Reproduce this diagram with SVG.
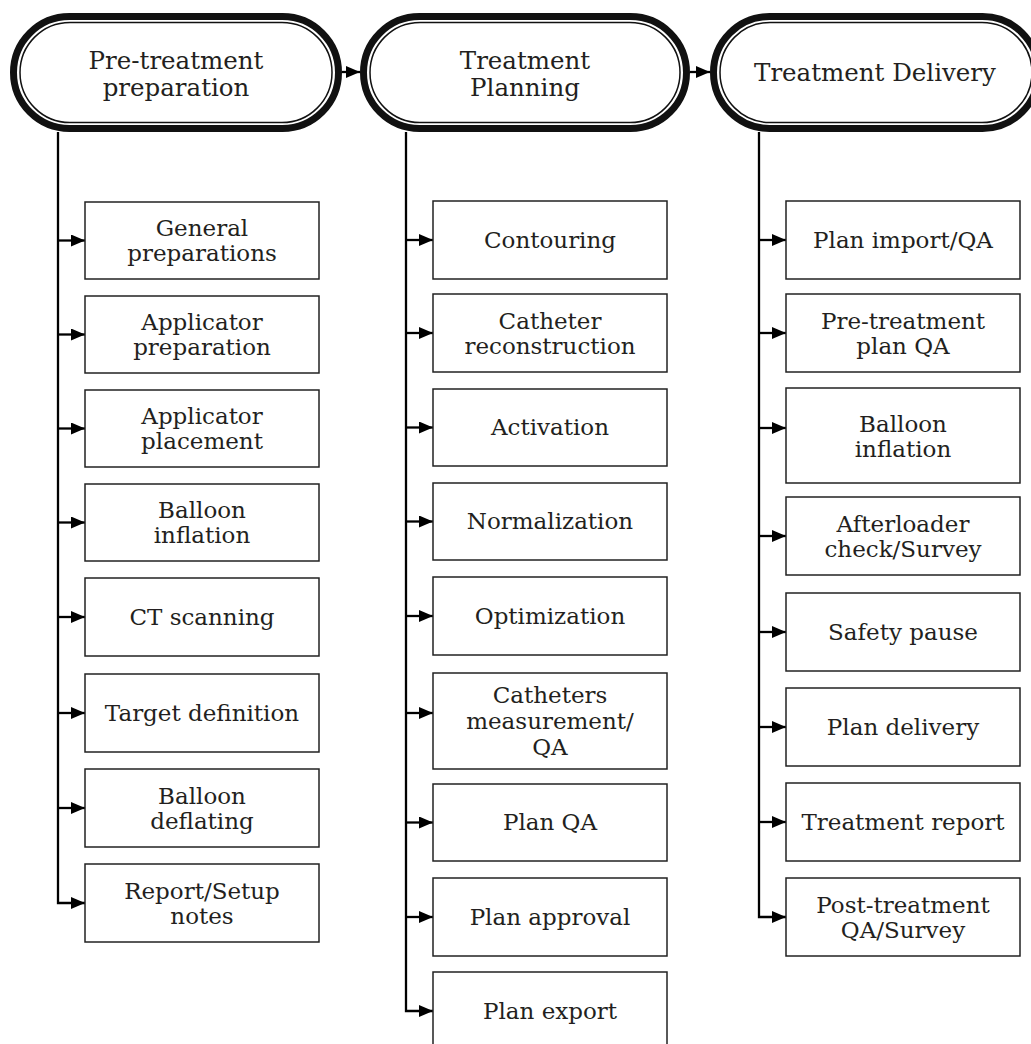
<svg xmlns="http://www.w3.org/2000/svg" width="1031" height="1044" viewBox="0 0 1031 1044">
<style>
.bg{fill:#fff}
.pillo{fill:#fff;stroke:#111;stroke-width:7}
.pilli{fill:none;stroke:#111;stroke-width:1.5}
.box{fill:#fff;stroke:#222;stroke-width:1.5}
.t{font-family:"DejaVu Serif","Liberation Serif",serif;font-size:23px;fill:#231f20;text-anchor:middle}
.h{font-family:"DejaVu Serif","Liberation Serif",serif;font-size:24.5px;fill:#231f20;text-anchor:middle}
.c{fill:none;stroke:#000;stroke-width:2.3}
</style>
<defs>
<marker id="ah" viewBox="0 0 14 12" refX="14" refY="6" markerWidth="14" markerHeight="12" markerUnits="userSpaceOnUse" orient="auto">
<path d="M0,0 L14,6 L0,12 Z" fill="#000"/>
</marker>
</defs>
<rect class="bg" x="0" y="0" width="1031" height="1044"/>

<g id="connectors">
<path class="c" d="M342,72 H360" marker-end="url(#ah)"/>
<path class="c" d="M690,72 H710" marker-end="url(#ah)"/>
<!-- column 1 -->
<path class="c" d="M58,132 V903 H85" marker-end="url(#ah)"/>
<path class="c" d="M58,240.5 H85" marker-end="url(#ah)"/>
<path class="c" d="M58,334.5 H85" marker-end="url(#ah)"/>
<path class="c" d="M58,428.5 H85" marker-end="url(#ah)"/>
<path class="c" d="M58,522.5 H85" marker-end="url(#ah)"/>
<path class="c" d="M58,617 H85" marker-end="url(#ah)"/>
<path class="c" d="M58,713 H85" marker-end="url(#ah)"/>
<path class="c" d="M58,808 H85" marker-end="url(#ah)"/>
<!-- column 2 -->
<path class="c" d="M406,132 V1011 H433" marker-end="url(#ah)"/>
<path class="c" d="M406,240 H433" marker-end="url(#ah)"/>
<path class="c" d="M406,333 H433" marker-end="url(#ah)"/>
<path class="c" d="M406,427.5 H433" marker-end="url(#ah)"/>
<path class="c" d="M406,521.5 H433" marker-end="url(#ah)"/>
<path class="c" d="M406,616 H433" marker-end="url(#ah)"/>
<path class="c" d="M406,713 H433" marker-end="url(#ah)"/>
<path class="c" d="M406,822.5 H433" marker-end="url(#ah)"/>
<path class="c" d="M406,917 H433" marker-end="url(#ah)"/>
<!-- column 3 -->
<path class="c" d="M759,132 V917 H786" marker-end="url(#ah)"/>
<path class="c" d="M759,240 H786" marker-end="url(#ah)"/>
<path class="c" d="M759,333 H786" marker-end="url(#ah)"/>
<path class="c" d="M759,428 H786" marker-end="url(#ah)"/>
<path class="c" d="M759,536 H786" marker-end="url(#ah)"/>
<path class="c" d="M759,632 H786" marker-end="url(#ah)"/>
<path class="c" d="M759,727 H786" marker-end="url(#ah)"/>
<path class="c" d="M759,822 H786" marker-end="url(#ah)"/>
</g>

<g id="pre-treatment">
<rect class="pillo" x="13.5" y="16.5" width="325" height="112" rx="56" ry="56"/>
<rect class="pilli" x="20" y="22.5" width="312" height="100" rx="50" ry="50"/>
<text class="h" x="176" y="69">Pre-treatment</text>
<text class="h" x="176" y="96">preparation</text>
</g>
<g id="treatment-planning">
<rect class="pillo" x="363.5" y="16.5" width="323" height="112" rx="56" ry="56"/>
<rect class="pilli" x="370" y="22.5" width="310" height="100" rx="50" ry="50"/>
<text class="h" x="525" y="69">Treatment</text>
<text class="h" x="525" y="96">Planning</text>
</g>
<g id="treatment-delivery">
<rect class="pillo" x="713.5" y="16.5" width="325" height="112" rx="56" ry="56"/>
<rect class="pilli" x="720" y="22.5" width="312" height="100" rx="50" ry="50"/>
<text class="h" x="875" y="81">Treatment Delivery</text>
</g>

<!-- column 1 boxes -->
<g id="general-preparations"><rect class="box" x="85" y="202" width="234" height="77"/><text class="t" x="202" y="236">General</text><text class="t" x="202" y="261">preparations</text></g>
<g id="applicator-preparation"><rect class="box" x="85" y="296" width="234" height="77"/><text class="t" x="202" y="330">Applicator</text><text class="t" x="202" y="355">preparation</text></g>
<g id="applicator-placement"><rect class="box" x="85" y="390" width="234" height="77"/><text class="t" x="202" y="424">Applicator</text><text class="t" x="202" y="449">placement</text></g>
<g id="balloon-inflation-1"><rect class="box" x="85" y="484" width="234" height="77"/><text class="t" x="202" y="518">Balloon</text><text class="t" x="202" y="543">inflation</text></g>
<g id="ct-scanning"><rect class="box" x="85" y="578" width="234" height="78"/><text class="t" x="202" y="625">CT scanning</text></g>
<g id="target-definition"><rect class="box" x="85" y="674" width="234" height="78"/><text class="t" x="202" y="721">Target definition</text></g>
<g id="balloon-deflating"><rect class="box" x="85" y="769" width="234" height="78"/><text class="t" x="202" y="804">Balloon</text><text class="t" x="202" y="829">deflating</text></g>
<g id="report-setup-notes"><rect class="box" x="85" y="864" width="234" height="78"/><text class="t" x="202" y="899">Report/Setup</text><text class="t" x="202" y="924">notes</text></g>

<!-- column 2 boxes -->
<g id="contouring"><rect class="box" x="433" y="201" width="234" height="78"/><text class="t" x="550" y="248">Contouring</text></g>
<g id="catheter-reconstruction"><rect class="box" x="433" y="294" width="234" height="78"/><text class="t" x="550" y="329">Catheter</text><text class="t" x="550" y="354">reconstruction</text></g>
<g id="activation"><rect class="box" x="433" y="389" width="234" height="77"/><text class="t" x="550" y="435">Activation</text></g>
<g id="normalization"><rect class="box" x="433" y="483" width="234" height="77"/><text class="t" x="550" y="529">Normalization</text></g>
<g id="optimization"><rect class="box" x="433" y="577" width="234" height="78"/><text class="t" x="550" y="624">Optimization</text></g>
<g id="catheters-measurement"><rect class="box" x="433" y="673" width="234" height="96"/><text class="t" x="550" y="703">Catheters</text><text class="t" x="550" y="729">measurement/</text><text class="t" x="550" y="755">QA</text></g>
<g id="plan-qa"><rect class="box" x="433" y="784" width="234" height="77"/><text class="t" x="550" y="830">Plan QA</text></g>
<g id="plan-approval"><rect class="box" x="433" y="878" width="234" height="78"/><text class="t" x="550" y="925">Plan approval</text></g>
<g id="plan-export"><rect class="box" x="433" y="972" width="234" height="80"/><text class="t" x="550" y="1019">Plan export</text></g>

<!-- column 3 boxes -->
<g id="plan-import-qa"><rect class="box" x="786" y="201" width="234" height="78"/><text class="t" x="903" y="248">Plan import/QA</text></g>
<g id="pre-treatment-plan-qa"><rect class="box" x="786" y="294" width="234" height="78"/><text class="t" x="903" y="329">Pre-treatment</text><text class="t" x="903" y="354">plan QA</text></g>
<g id="balloon-inflation-2"><rect class="box" x="786" y="388" width="234" height="95"/><text class="t" x="903" y="432">Balloon</text><text class="t" x="903" y="457">inflation</text></g>
<g id="afterloader-check"><rect class="box" x="786" y="497" width="234" height="78"/><text class="t" x="903" y="532">Afterloader</text><text class="t" x="903" y="557">check/Survey</text></g>
<g id="safety-pause"><rect class="box" x="786" y="593" width="234" height="78"/><text class="t" x="903" y="640">Safety pause</text></g>
<g id="plan-delivery"><rect class="box" x="786" y="688" width="234" height="78"/><text class="t" x="903" y="735">Plan delivery</text></g>
<g id="treatment-report"><rect class="box" x="786" y="783" width="234" height="78"/><text class="t" x="903" y="830">Treatment report</text></g>
<g id="post-treatment-qa"><rect class="box" x="786" y="878" width="234" height="78"/><text class="t" x="903" y="913">Post-treatment</text><text class="t" x="903" y="938">QA/Survey</text></g>
</svg>
